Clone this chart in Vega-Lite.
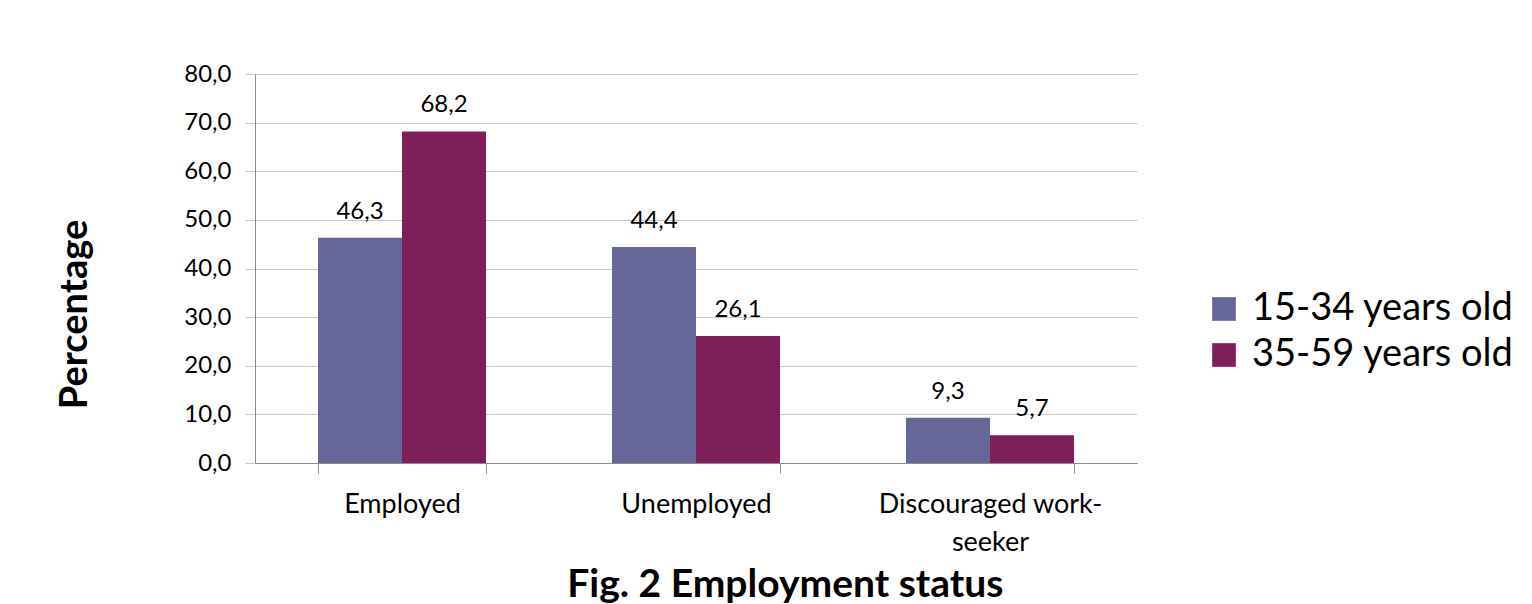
{
  "$schema": "https://vega.github.io/schema/vega-lite/v6.json",
  "width": 882,
  "height": 389,
  "autosize": {"type": "none"},
  "padding": {"left": 255, "top": 74, "right": 395, "bottom": 141},
  "background": "white",
  "config": {
    "font": "Lato",
    "view": {"stroke": null},
    "locale": {"number": {"decimal": ",", "thousands": ".", "grouping": [3], "currency": ["", ""]}}
  },
  "title": {
    "text": "Fig. 2 Employment status",
    "orient": "bottom",
    "anchor": "middle",
    "frame": "bounds",
    "fontSize": 39,
    "fontWeight": "bold",
    "font": "Lato",
    "color": "black",
    "offset": 11
  },
  "data": {
    "values": [
      {"status": "Employed", "group": "15-34 years old", "pct": 46.3},
      {"status": "Employed", "group": "35-59 years old", "pct": 68.2},
      {"status": "Unemployed", "group": "15-34 years old", "pct": 44.4},
      {"status": "Unemployed", "group": "35-59 years old", "pct": 26.1},
      {"status": "Discouraged work-seeker", "group": "15-34 years old", "pct": 9.3},
      {"status": "Discouraged work-seeker", "group": "35-59 years old", "pct": 5.7}
    ]
  },
  "encoding": {
    "x": {
      "field": "status",
      "type": "nominal",
      "sort": null,
      "scale": {"paddingInner": 0.4286, "paddingOuter": 0.2143},
      "axis": {
        "title": null,
        "labelAngle": 0,
        "tickBand": "extent",
        "tickSize": 10,
        "tickColor": "#8c8c8c",
        "domainColor": "#8c8c8c",
        "labelFontSize": 27,
        "labelColor": "black",
        "labelPadding": 18,
        "labelLineHeight": 38,
        "labelBaseline": "top",
        "labelLimit": 400,
        "labelExpr": "datum.label == 'Discouraged work-seeker' ? ['Discouraged work-', 'seeker'] : datum.label"
      }
    },
    "xOffset": {"field": "group", "type": "nominal", "scale": {"paddingInner": 0, "paddingOuter": 0}},
    "y": {
      "field": "pct",
      "type": "quantitative",
      "scale": {"domain": [0, 80], "nice": false},
      "axis": {
        "title": "Percentage",
        "titleFontSize": 38,
        "titleFontWeight": "bold",
        "titleColor": "black",
        "titlePadding": 89,
        "titleY": 240,
        "values": [0, 10, 20, 30, 40, 50, 60, 70, 80],
        "format": ".1f",
        "labelFontSize": 24,
        "labelColor": "black",
        "labelPadding": 14,
        "tickSize": 10,
        "tickColor": "#c8c8c8",
        "domainColor": "#8c8c8c",
        "gridColor": "#c8c8c8"
      }
    }
  },
  "layer": [
    {
      "mark": {"type": "bar"},
      "encoding": {
        "color": {
          "field": "group",
          "type": "nominal",
          "scale": {"range": ["#666699", "#7f1f5a"]},
          "legend": {
            "title": null,
            "orient": "none",
            "legendX": 950,
            "legendY": 216,
            "symbolType": "square",
            "symbolSize": 560,
            "symbolStrokeWidth": 0,
            "labelFontSize": 38,
            "labelColor": "black",
            "labelOffset": 9,
            "rowPadding": 8,
            "labelLimit": 400
          }
        }
      }
    },
    {
      "mark": {"type": "text", "baseline": "alphabetic", "dy": -19, "fontSize": 24, "color": "black"},
      "encoding": {
        "text": {"field": "pct", "type": "quantitative", "format": ".1f"}
      }
    }
  ]
}
